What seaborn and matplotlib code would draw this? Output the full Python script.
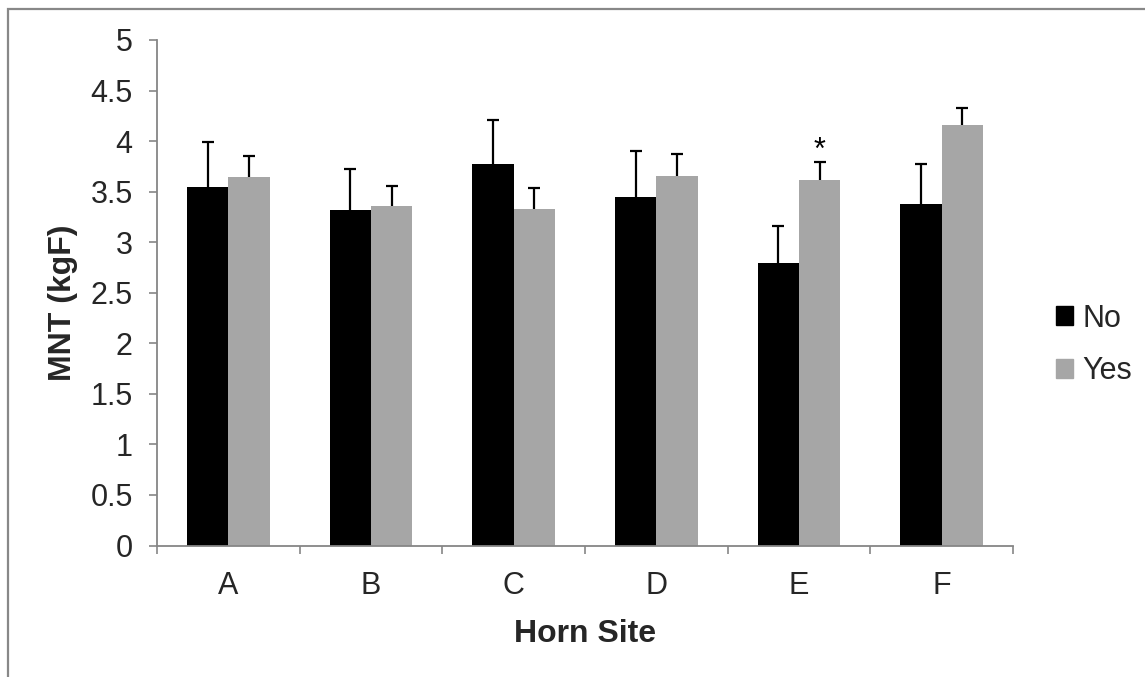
import matplotlib
matplotlib.use("Agg")
import matplotlib.pyplot as plt
import matplotlib.patches as mpatches
import numpy as np
import pandas as pd
import seaborn as sns

sites = ["A", "B", "C", "D", "E", "F"]
groups = ["No", "Yes"]
mnt_no = [3.55, 3.32, 3.77, 3.45, 2.79, 3.38]
mnt_yes = [3.64, 3.36, 3.33, 3.65, 3.62, 4.16]
err_no = [0.44, 0.40, 0.44, 0.45, 0.37, 0.39]
err_yes = [0.21, 0.20, 0.21, 0.22, 0.17, 0.17]
yticks = [0, 0.5, 1, 1.5, 2, 2.5, 3, 3.5, 4, 4.5, 5]
ytick_labels = ["0", "0.5", "1", "1.5", "2", "2.5", "3", "3.5", "4", "4.5", "5"]
star_site = "E"
star_group = "Yes"
star_y = 3.90

sns.set_style("white")
plt.rcParams["font.family"] = ["Liberation Sans", "DejaVu Sans"]

df = pd.DataFrame({
    "Site": sites * 2,
    "Group": ["No"] * len(sites) + ["Yes"] * len(sites),
    "MNT": mnt_no + mnt_yes,
})

FS = 22
LFS = 23

fig = plt.figure(figsize=(11.45, 6.77), dpi=100)
ax = fig.add_axes([157 / 1145, 1 - 545.5 / 677, (1013 - 157) / 1145, (545.5 - 40) / 677])

palette = {"No": "#000000", "Yes": "#A6A6A6"}
sns.barplot(data=df, x="Site", y="MNT", hue="Group", order=sites, hue_order=groups,
            palette=palette, width=0.58, errorbar=None, ax=ax, legend=False,
            saturation=1, linewidth=0)

errs = {"No": err_no, "Yes": err_yes}
vals = {"No": mnt_no, "Yes": mnt_yes}
for cont, g in zip(ax.containers, groups):
    xs = np.array([p.get_x() + p.get_width() / 2 for p in cont.patches])
    v = np.array(vals[g])
    e = np.array(errs[g])
    ax.vlines(xs, v, v + e, colors="black", linewidth=1.6, zorder=3)
    ax.plot(xs, v + e, linestyle="none", marker="_", markersize=8.5,
            markeredgewidth=1.6, color="black", zorder=3)
    if g == star_group:
        i = sites.index(star_site)
        ax.text(xs[i], star_y, "*", ha="center", va="center", fontsize=FS, color="black")

ax.set_xlim(-0.5, len(sites) - 0.5)
ax.set_ylim(0, 5)
ax.set_yticks(yticks)
ax.set_yticklabels(ytick_labels)
ax.set_xticks(range(len(sites)))
ax.set_xticklabels(sites)
ax.set_xticks(np.arange(-0.5, len(sites), 1.0), minor=True)

spine_c = "#868686"
for s in ["top", "right"]:
    ax.spines[s].set_visible(False)
for s in ["left", "bottom"]:
    ax.spines[s].set_color(spine_c)
    ax.spines[s].set_linewidth(1.3)

ax.tick_params(axis="y", which="major", direction="out", length=5.5, width=1.2,
               color=spine_c, labelsize=FS, pad=12, left=True)
ax.tick_params(axis="x", which="major", length=0, labelsize=FS, pad=18)
ax.tick_params(axis="x", which="minor", direction="out", length=5.5, width=1.2,
               color=spine_c, bottom=True)

ax.set_ylabel("MNT (kgF)", fontsize=LFS, fontweight="bold")
ax.set_xlabel("Horn Site", fontsize=LFS, fontweight="bold")
ax.yaxis.set_label_coords((78 - 157) / 856, 0.48)
ax.xaxis.set_label_coords(0.5, (545.5 - 619) / 505.5)

handles = [mpatches.Patch(color=palette[g], label=g) for g in groups]
fig.legend(handles=handles, loc="center left", frameon=False, fontsize=FS,
           bbox_to_anchor=(1056 / 1145, 1 - 345 / 677), handlelength=0.56,
           handleheight=0.56, handletextpad=0.3, labelspacing=0.75, borderpad=0,
           borderaxespad=0)

border = mpatches.Rectangle((7.5 / 1145, -0.1), 1.2, 1 - 8.5 / 677 + 0.1,
                            transform=fig.transFigure, fill=False,
                            edgecolor="#888888", linewidth=1.6)
fig.patches.append(border)

fig.savefig("out.png", dpi=100)
